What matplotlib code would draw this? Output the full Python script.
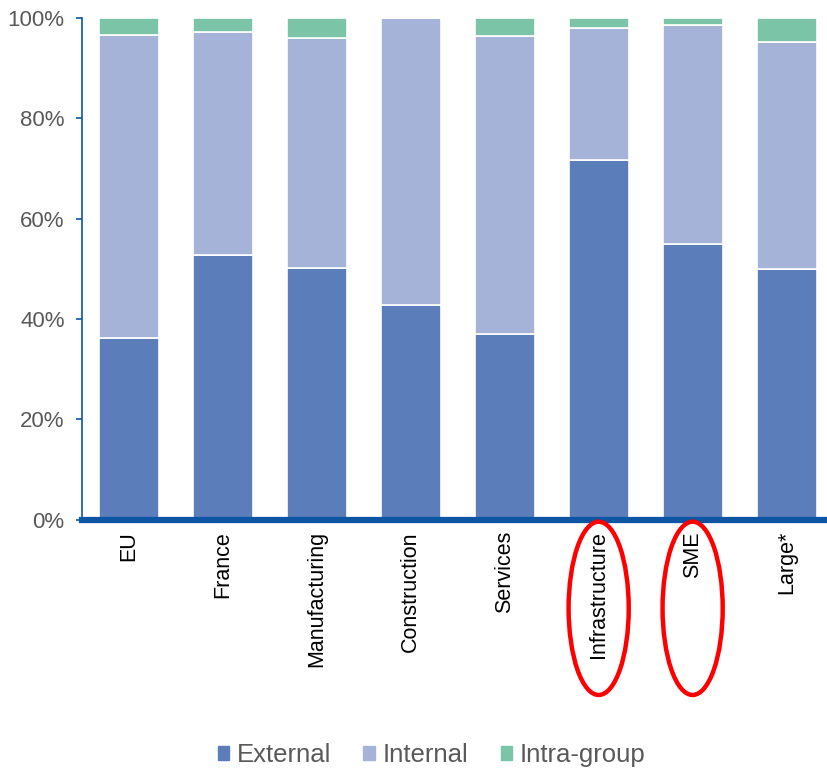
import matplotlib.pyplot as plt
from matplotlib.patches import Ellipse, Patch
from matplotlib.ticker import PercentFormatter
import numpy as np

plt.rcParams['font.family'] = ['Liberation Sans', 'DejaVu Sans']

categories = ['EU', 'France', 'Manufacturing', 'Construction', 'Services',
              'Infrastructure', 'SME', 'Large*']
external = [36.3, 52.8, 50.2, 42.8, 37.1, 71.7, 55.0, 50.0]
internal = [60.3, 44.4, 45.8, 57.2, 59.3, 26.3, 43.6, 45.2]
intra_group = [3.4, 2.8, 4.0, 0.0, 3.6, 2.0, 1.4, 4.8]
highlighted = ['Infrastructure', 'SME']

C_EXT = '#5B7DB9'
C_INT = '#A5B3D8'
C_INTRA = '#7BC4A7'
AXIS_BLUE = '#0B55A3'

fig = plt.figure(figsize=(8.27, 7.68), dpi=100)
ax = fig.add_axes([0.099, 0.323, 0.901, 0.654])

x = np.arange(len(categories))
w = 0.64
ext = np.array(external)
intl = np.array(internal)
ax.bar(x, ext, w, color=C_EXT, edgecolor='white', linewidth=1.2, zorder=2)
ax.bar(x, intl, w, bottom=ext, color=C_INT, edgecolor='white', linewidth=1.2, zorder=2)
ax.bar(x, intra_group, w, bottom=ext + intl, color=C_INTRA, edgecolor='white',
       linewidth=1.2, zorder=2)

ax.set_xlim(-0.5, 7.43)
ax.set_ylim(0, 100)
ax.set_yticks(range(0, 101, 20))
ax.yaxis.set_major_formatter(PercentFormatter(decimals=0))
ax.tick_params(axis='y', colors=AXIS_BLUE, labelcolor='#595959', labelsize=16,
               length=4.5, width=1.2, direction='out', pad=8)
ax.set_xticks(x)
ax.set_xticklabels(categories, rotation=90, fontsize=15.5, color='black')
ax.tick_params(axis='x', length=0, pad=8)

for s in ['top', 'right']:
    ax.spines[s].set_visible(False)
ax.spines['left'].set_color(AXIS_BLUE)
ax.spines['left'].set_linewidth(1.2)
ax.spines['bottom'].set_color(AXIS_BLUE)
ax.spines['bottom'].set_linewidth(4.5)
ax.spines['bottom'].set_zorder(3)

# red rings around the highlighted labels
trans = ax.get_xaxis_transform()
for name in highlighted:
    i = categories.index(name)
    ax.add_patch(Ellipse((i, -0.176), 0.64, 0.345, transform=trans, fill=False,
                         edgecolor='red', linewidth=3.2, clip_on=False, zorder=4))

handles = [Patch(color=C_EXT, label='External'),
           Patch(color=C_INT, label='Internal'),
           Patch(color=C_INTRA, label='Intra-group')]
fig.legend(handles=handles, loc='center', bbox_to_anchor=(0.522, 0.017), ncol=3,
           frameon=False, fontsize=18.5, handlelength=0.45, handleheight=0.45,
           handletextpad=0.3, columnspacing=1.25, labelcolor='#595959')

fig.savefig('out.png', dpi=100)
